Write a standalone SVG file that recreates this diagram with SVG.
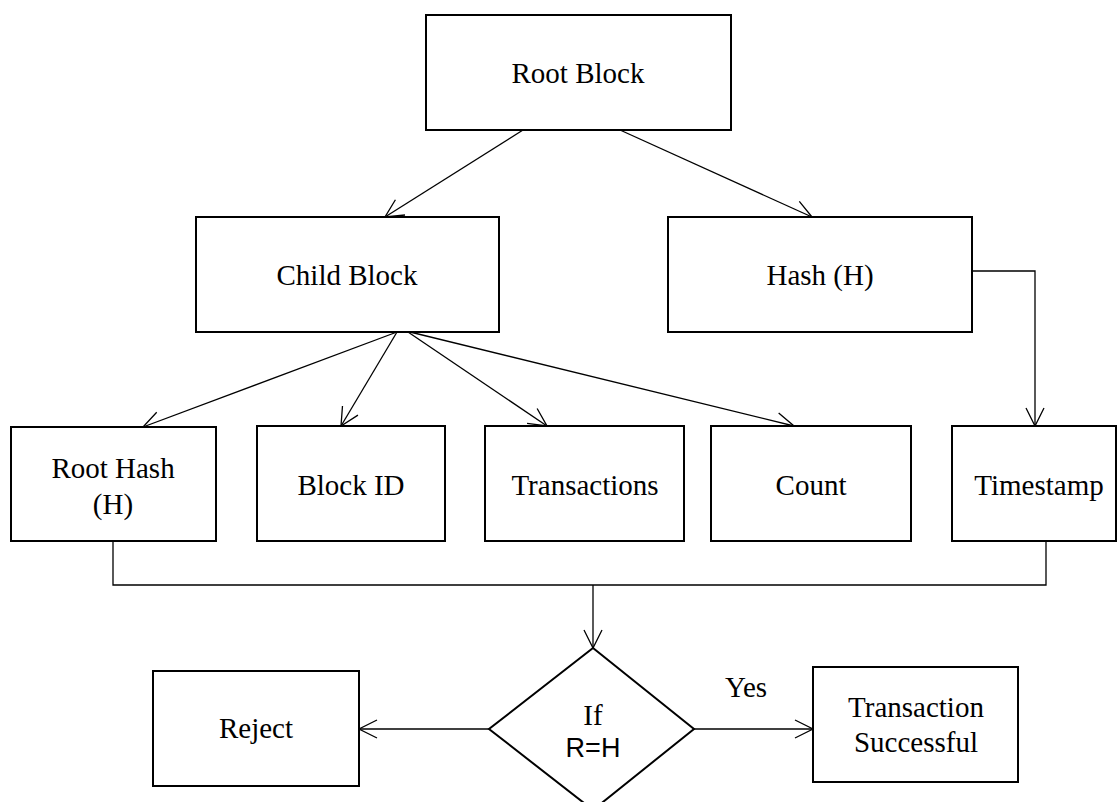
<svg xmlns="http://www.w3.org/2000/svg" width="1118" height="802" viewBox="0 0 1118 802">
<style>
.box{fill:#fff;stroke:#000;stroke-width:2}
.t{font-family:"Liberation Serif","Times New Roman",serif;font-size:29px;fill:#000;text-anchor:middle}
.s{font-family:"Liberation Sans",Arial,sans-serif;font-size:27px;fill:#000;text-anchor:middle}
.c{fill:none;stroke:#000;stroke-width:1.3}
</style>
<defs>
<marker id="a" markerUnits="userSpaceOnUse" markerWidth="24" markerHeight="24" viewBox="-20 -12 24 24" refX="0" refY="0" orient="auto">
<path d="M-18,-9 L0,0 L-18,9" fill="none" stroke="#000" stroke-width="1.3"/>
</marker>
</defs>
<rect width="1118" height="802" fill="#fff"/>
<g id="connectors">
<path class="c" d="M523,130 L385,217" marker-end="url(#a)"/>
<path class="c" d="M620,130 L812,217" marker-end="url(#a)"/>
<path class="c" d="M397,332 L143,427" marker-end="url(#a)"/>
<path class="c" d="M397,332 L341,426" marker-end="url(#a)"/>
<path class="c" d="M408,332 L547,426" marker-end="url(#a)"/>
<path class="c" d="M410,332 L794,426" marker-end="url(#a)"/>
<path class="c" d="M972,271 L1035,271 L1035,426" marker-end="url(#a)"/>
<path class="c" d="M113,541 L113,585 L1046,585 L1046,541"/>
<path class="c" d="M593,585 L593,648" marker-end="url(#a)"/>
<path class="c" d="M489,729 L359,729" marker-end="url(#a)"/>
<path class="c" d="M694,729 L813,729" marker-end="url(#a)"/>
<text class="t" x="746" y="697">Yes</text>
</g>
<g id="root-block"><rect class="box" x="426" y="15" width="305" height="115"/><text class="t" x="578" y="83">Root Block</text></g>
<g id="child-block"><rect class="box" x="196" y="217" width="303" height="115"/><text class="t" x="347" y="285">Child Block</text></g>
<g id="hash"><rect class="box" x="668" y="217" width="304" height="115"/><text class="t" x="820" y="285">Hash (H)</text></g>
<g id="root-hash"><rect class="box" x="11" y="427" width="205" height="114"/><text class="t" x="113" y="478">Root Hash</text><text class="t" x="113" y="514">(H)</text></g>
<g id="block-id"><rect class="box" x="257" y="426" width="188" height="115"/><text class="t" x="351" y="495">Block ID</text></g>
<g id="transactions"><rect class="box" x="485" y="426" width="199" height="115"/><text class="t" x="585" y="495">Transactions</text></g>
<g id="count"><rect class="box" x="711" y="426" width="200" height="115"/><text class="t" x="811" y="495">Count</text></g>
<g id="timestamp"><rect class="box" x="952" y="426" width="164" height="115"/><text class="t" x="1039" y="495">Timestamp</text></g>
<g id="decision"><path class="box" d="M593,648 L694,729 L593,810 L489,729 Z"/><text class="t" x="593" y="725">If</text><text class="s" x="593" y="757">R=H</text></g>
<g id="reject"><rect class="box" x="153" y="671" width="206" height="115"/><text class="t" x="256" y="738">Reject</text></g>
<g id="success"><rect class="box" x="813" y="667" width="205" height="115"/><text class="t" x="916" y="717">Transaction</text><text class="t" x="916" y="752">Successful</text></g>
</svg>
